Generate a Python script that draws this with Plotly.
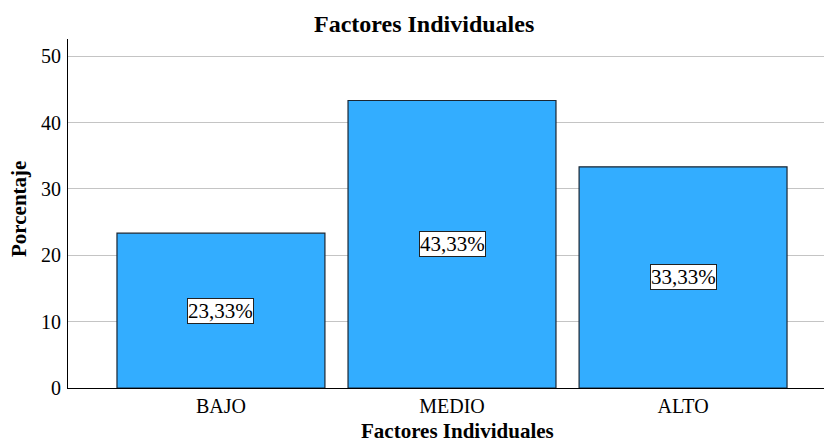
import plotly.graph_objects as go

categories = ["BAJO", "MEDIO", "ALTO"]
percentages = [23.33, 43.33, 33.33]
y_ticks = [0, 10, 20, 30, 40, 50]

FONT = "Liberation Serif"
BAR_COLOR = "#33adff"

W, H = 824, 443
L, R, T, B = 68, 0, 39, 55
plot_w = W - L - R
plot_h = H - T - B


def px_x(px):
    return (px - L) / plot_w


def px_y(py):
    return (H - B - py) / plot_h


fig = go.Figure()
fig.add_trace(go.Bar(
    x=list(range(len(categories))),
    y=percentages,
    width=0.9,
    marker=dict(color=BAR_COLOR, line=dict(color="#1a2633", width=1.2)),
    hoverinfo="skip",
))

# value boxes at the middle of each bar
for i, v in enumerate(percentages):
    fig.add_annotation(
        x=i, y=v / 2, xref="x", yref="y",
        text=f"{v:.2f}%".replace(".", ","),
        showarrow=False,
        font=dict(family=FONT, size=21, color="black"),
        bgcolor="white", bordercolor="#222222", borderwidth=1, borderpad=0,
    )

fig.add_annotation(
    x=px_x(424), y=px_y(24), xref="paper", yref="paper",
    xanchor="center", yanchor="middle",
    text="<b>Factores Individuales</b>", showarrow=False,
    font=dict(family=FONT, size=24, color="black"),
)
fig.add_annotation(
    x=px_x(457), y=px_y(431), xref="paper", yref="paper",
    xanchor="center", yanchor="middle",
    text="<b>Factores Individuales</b>", showarrow=False,
    font=dict(family=FONT, size=21, color="black"),
)
fig.add_annotation(
    x=px_x(19), y=px_y(209), xref="paper", yref="paper",
    xanchor="center", yanchor="middle",
    text="<b>Porcentaje</b>", showarrow=False, textangle=-90,
    font=dict(family=FONT, size=21, color="black"),
)

fig.update_layout(
    width=W, height=H,
    margin=dict(l=L, r=R, t=T, b=B),
    paper_bgcolor="white", plot_bgcolor="white",
    showlegend=False,
    xaxis=dict(
        range=[-0.662, 2.61],
        tickmode="array", tickvals=list(range(len(categories))), ticktext=categories,
        tickfont=dict(family=FONT, size=20, color="black"),
        showgrid=False, zeroline=False,
        showline=True, linecolor="black", linewidth=1.2,
        ticks="", ticklabelstandoff=0,
    ),
    yaxis=dict(
        range=[0, 52.6],
        tickmode="array", tickvals=y_ticks,
        tickfont=dict(family=FONT, size=20, color="black"),
        showgrid=True, gridcolor="#c4c4c4", gridwidth=1,
        zeroline=False,
        showline=True, linecolor="black", linewidth=1.2,
        ticks="", ticklabelstandoff=2,
    ),
)

fig.write_html("out.html")
